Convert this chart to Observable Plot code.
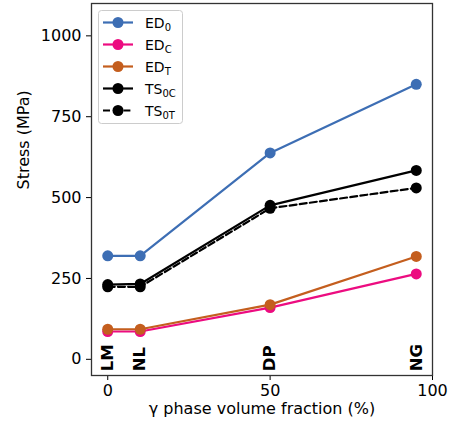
<!DOCTYPE html>
<html>
<head>
<meta charset="utf-8">
<script src="https://cdn.jsdelivr.net/npm/d3@7"></script>
<script src="https://cdn.jsdelivr.net/npm/@observablehq/plot@0.6"></script>
<style>
  html, body { margin: 0; padding: 0; background: #fff; }
  #chart { width: 450px; height: 430px; }
</style>
</head>
<body>
<div id="chart"></div>
<script>
// ---- data ----
const fractions = [0, 10, 50, 95];               // γ phase volume fraction (%)
const sampleLabels = ["LM", "NL", "DP", "NG"];
const ed0  = [320, 320, 638, 850];
const edC  = [86, 86, 160, 264];
const edT  = [93, 93, 169, 318];
const ts0C = [231, 233, 476, 584];
const ts0T = [224, 224, 467, 530];
const seriesKeys = ["ED0", "EDC", "EDT", "TS0C", "TS0T"];
const seriesBase = ["ED", "ED", "ED", "TS", "TS"];
const seriesSub  = ["0", "C", "T", "0C", "0T"];
const seriesValues = [ed0, edC, edT, ts0C, ts0T];
const seriesColors = ["#3d6eb4", "#ec0c80", "#c45e1e", "#000000", "#000000"];
const seriesDash = [null, null, null, null, "7,3.2"];
const xTicks = [0, 50, 100];
const yTicks = [0, 250, 500, 750, 1000];
const xLabel = "γ phase volume fraction (%)";
const yLabel = "Stress (MPa)";

// ---- table ----
const rows = [];
seriesKeys.forEach((k, i) => {
  fractions.forEach((f, j) => rows.push({series: k, x: f, y: seriesValues[i][j]}));
});
const labelRows = fractions.map((f, j) => ({x: f, label: sampleLabels[j]}));

const marks = [];
seriesKeys.forEach((k, i) => {
  const data = rows.filter(d => d.series === k);
  marks.push(Plot.line(data, {
    x: "x", y: "y", stroke: seriesColors[i], strokeWidth: 2.2,
    strokeDasharray: seriesDash[i] || undefined
  }));
  marks.push(Plot.dot(data, {x: "x", y: "y", r: 5.5, fill: seriesColors[i]}));
});

const chart = Plot.plot({
  width: 450,
  height: 430,
  marginLeft: 91,
  marginRight: 18,
  marginTop: 3,
  marginBottom: 55,
  style: {fontFamily: "DejaVu Sans, sans-serif", fontSize: "16px", color: "#000", background: "#fff"},
  x: {domain: [-5, 100]},
  y: {domain: [-50, 1100]},
  marks: [
    Plot.axisX({ticks: xTicks, tickFormat: d3.format("d"), tickSize: 5, tickPadding: 4, label: null, fontSize: 16}),
    Plot.axisY({ticks: yTicks, tickFormat: d3.format("d"), tickSize: 5, tickPadding: 5, label: null, fontSize: 16}),
    Plot.text([xLabel], {frameAnchor: "bottom", dy: 38, fontSize: 16, text: d => d}),
    Plot.text([yLabel], {frameAnchor: "left", dx: -68, rotate: -90, fontSize: 16, text: d => d}),
    ...marks,
    Plot.text(labelRows, {
      x: "x", y: () => -37, text: "label", rotate: -90, textAnchor: "start",
      fontWeight: "bold", fontSize: 16.5, fill: "#000"
    }),
    Plot.frame({stroke: "#333", strokeWidth: 1.3})
  ]
});
document.getElementById("chart").appendChild(chart);

// ---- legend (inside plot, upper left) ----
const svg = d3.select(chart);
const lg = svg.append("g").attr("class", "legend").attr("text-anchor", "start");
lg.append("rect")
  .attr("x", 98.5).attr("y", 10.5).attr("width", 84).attr("height", 113)
  .attr("rx", 3).attr("fill", "#fff").attr("fill-opacity", 0.85)
  .attr("stroke", "#ccc").attr("stroke-width", 1);
seriesKeys.forEach((k, i) => {
  const cy = 22.5 + i * 22;
  const ln = lg.append("line")
    .attr("x1", 103).attr("x2", 133).attr("y1", cy).attr("y2", cy)
    .attr("stroke", seriesColors[i]).attr("stroke-width", 2.2);
  if (seriesDash[i]) ln.attr("stroke-dasharray", seriesDash[i]);
  lg.append("circle").attr("cx", 118).attr("cy", cy).attr("r", 5.5).attr("fill", seriesColors[i]);
  const t = lg.append("text").attr("x", 145).attr("y", cy + 5)
    .attr("text-anchor", "start")
    .attr("font-family", "DejaVu Sans, sans-serif").attr("font-size", 14).attr("fill", "#000");
  t.append("tspan").text(seriesBase[i]);
  t.append("tspan").attr("font-size", 10).attr("dy", 3).text(seriesSub[i]);
});
</script>
</body>
</html>
